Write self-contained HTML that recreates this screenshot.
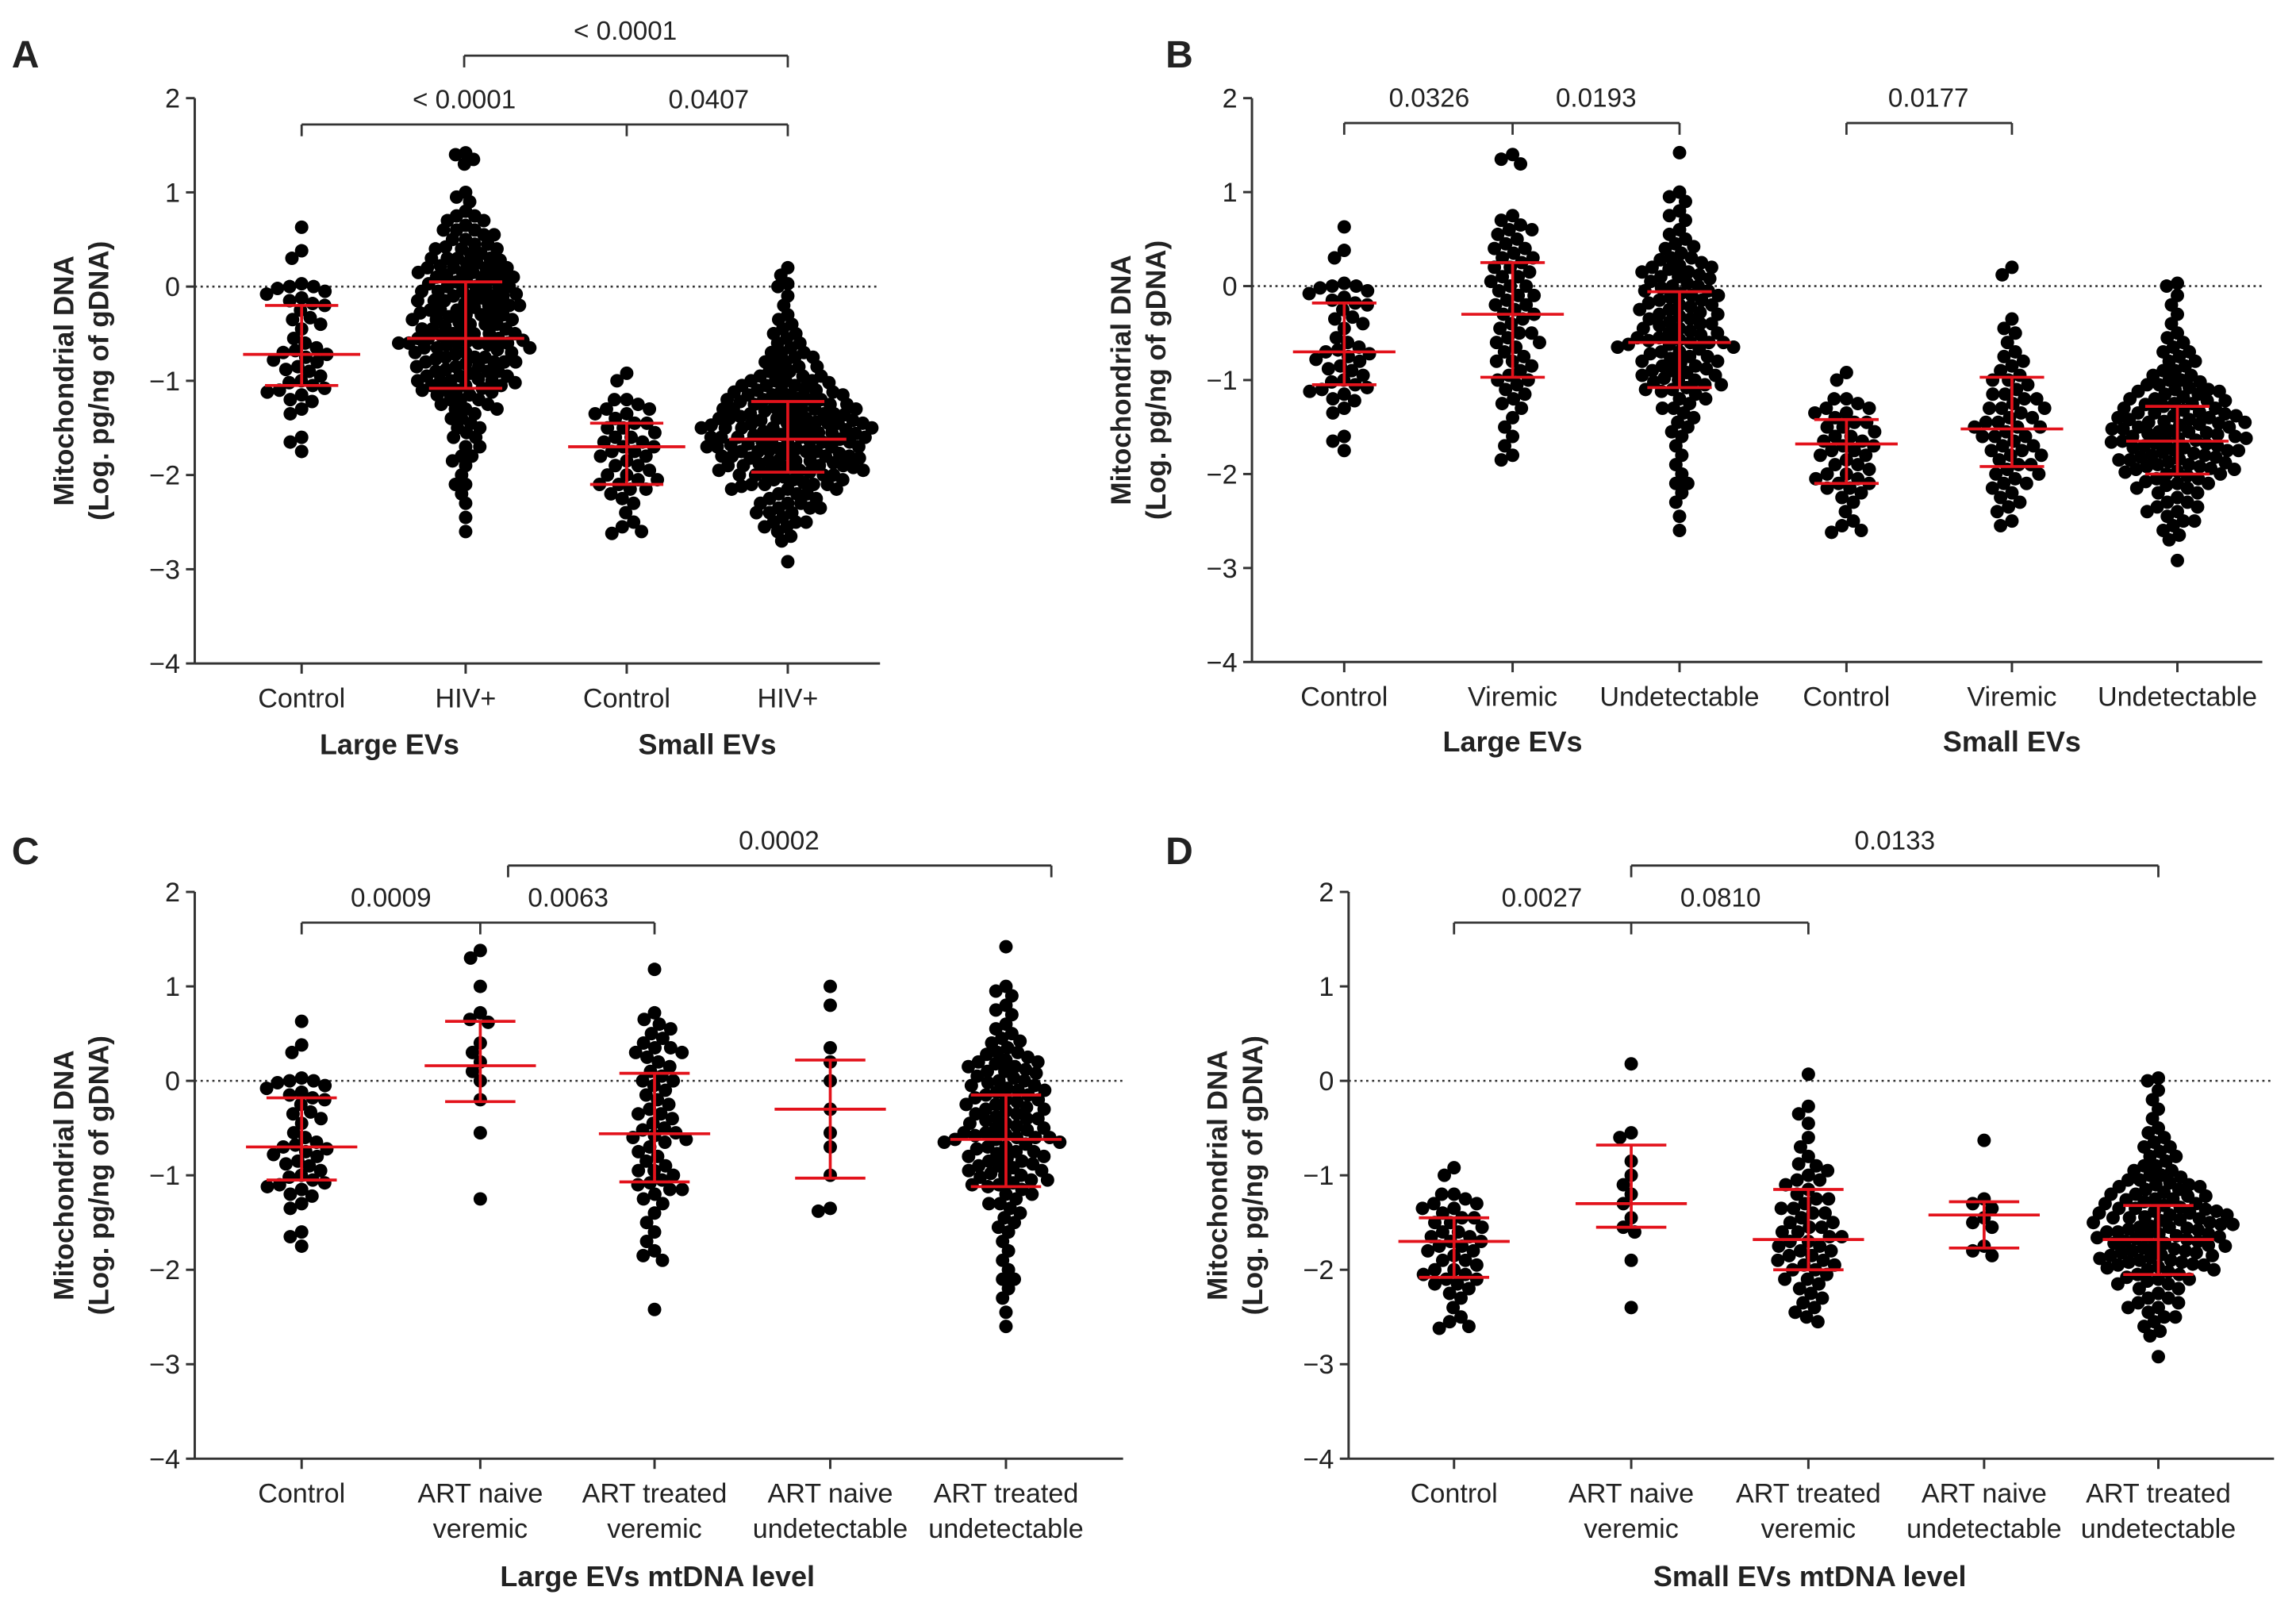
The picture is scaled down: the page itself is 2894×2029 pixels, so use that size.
<!DOCTYPE html>
<html><head><meta charset="utf-8"><style>
html,body{margin:0;padding:0;background:#fff}
svg{display:block}
text{font-family:"Liberation Sans",Arial,sans-serif;fill:#222}
</style></head><body>
<svg id="fig" xmlns="http://www.w3.org/2000/svg" width="2894" height="2029" viewBox="0 0 1568 1099.3"></svg>
<script>
// ---------- data ----------
const largeControl=[0.63,0.38,0.3,0.03,0.0,-0.05,-0.02,0.0,-0.08,-0.12,-0.15,-0.2,-0.18,-0.35,-0.4,-0.33,-0.45,-0.6,-0.55,-0.65,-0.7,-0.72,-0.75,-0.68,-0.8,-0.85,-0.9,-0.78,-0.88,-0.95,-1.0,-1.02,-1.05,-1.08,-1.1,-1.12,-1.15,-1.2,-1.22,-1.3,-1.35,-1.6,-1.65,-1.75,-0.25];
const largeViremic=[1.4,1.35,1.3,0.75,0.7,0.65,0.6,0.55,0.5,0.45,0.4,0.35,0.3,0.3,0.25,0.2,0.15,0.1,0.05,0.0,-0.05,-0.1,-0.15,-0.2,-0.25,-0.3,-0.35,-0.4,-0.45,-0.5,-0.55,-0.6,-0.65,-0.7,-0.75,-0.8,-0.85,-0.9,-0.95,-1.0,-1.05,-1.1,-1.15,-1.2,-1.25,-1.3,-1.4,-1.5,-1.6,-1.7,-1.8,-1.85,0.4,0.2,-0.1,-0.3,-0.5,-0.2,0.1,-0.8,-1.0,-0.6,0.0,0.6];
const largeUndet=[1.42,1.0,0.95,0.9,0.8,0.75,0.7,0.6,0.55,0.5,0.45,0.42,0.4,0.35,0.3,0.28,0.25,0.22,0.2,0.18,0.15,0.12,0.1,0.08,0.05,0.03,0.0,-0.02,-0.05,-0.08,-0.1,-0.12,-0.15,-0.18,-0.2,-0.22,-0.25,-0.28,-0.3,-0.32,-0.35,-0.38,-0.4,-0.42,-0.45,-0.48,-0.5,-0.52,-0.55,-0.57,-0.6,-0.6,-0.62,-0.65,-0.67,-0.7,-0.72,-0.75,-0.77,-0.8,-0.82,-0.85,-0.88,-0.9,-0.92,-0.95,-0.98,-1.0,-1.02,-1.05,-1.08,-1.1,-1.12,-1.15,-1.2,-1.25,-1.3,-1.35,-1.4,-1.45,-1.5,-1.55,-1.6,-1.7,-1.8,-1.9,-2.0,-2.1,-2.1,-2.2,-2.3,-2.45,-2.6,-0.3,-0.4,-0.5,-0.6,-0.7,-0.8,-0.9,-1.0,-0.2,-0.1,0.0,0.1,0.2,0.3,-0.45,-0.55,-0.65,-0.75,-0.85,-0.35,-0.25,-0.15,-1.1,-1.2,-1.3,-0.05,0.15,-0.95,-1.05,-0.58,-0.62];
const smallControl=[-0.92,-1.0,-1.2,-1.2,-1.25,-1.3,-1.3,-1.35,-1.4,-1.45,-1.5,-1.5,-1.55,-1.6,-1.6,-1.65,-1.7,-1.7,-1.75,-1.8,-1.8,-1.85,-1.9,-1.9,-1.95,-2.0,-2.0,-2.05,-2.1,-2.1,-2.15,-2.15,-2.2,-2.25,-2.3,-2.4,-2.5,-2.55,-2.6,-2.62,-1.45,-1.65,-1.75,-2.05,-1.35];
const smallViremic=[0.2,0.12,-0.35,-0.45,-0.5,-0.6,-0.7,-0.75,-0.8,-0.9,-0.95,-1.0,-1.05,-1.1,-1.15,-1.2,-1.25,-1.3,-1.3,-1.35,-1.4,-1.45,-1.5,-1.5,-1.55,-1.6,-1.6,-1.65,-1.7,-1.75,-1.8,-1.85,-1.9,-1.95,-2.0,-2.05,-2.1,-2.15,-2.2,-2.25,-2.3,-2.4,-2.5,-2.55,-1.2,-1.4,-1.7,-1.9,-2.1,-1.0,-1.5,-1.8,-2.0,-1.3,-1.6,-0.85,-1.15,-2.35,-1.45,-1.75];
const smallUndet=[0.03,0.0,-0.1,-0.2,-0.3,-0.4,-0.5,-0.55,-0.6,-0.65,-0.7,-0.75,-0.8,-0.85,-0.9,-0.95,-1.0,-1.02,-1.05,-1.08,-1.1,-1.12,-1.15,-1.18,-1.2,-1.22,-1.25,-1.28,-1.3,-1.32,-1.35,-1.38,-1.4,-1.42,-1.45,-1.47,-1.5,-1.52,-1.55,-1.57,-1.6,-1.62,-1.65,-1.67,-1.7,-1.72,-1.75,-1.77,-1.8,-1.82,-1.85,-1.87,-1.9,-1.92,-1.95,-1.97,-2.0,-2.02,-2.05,-2.08,-2.1,-2.12,-2.15,-2.2,-2.25,-2.3,-2.35,-2.4,-2.45,-2.5,-2.55,-2.6,-2.65,-2.7,-2.92,-1.3,-1.4,-1.5,-1.6,-1.7,-1.8,-1.9,-2.0,-1.35,-1.45,-1.55,-1.65,-1.75,-1.85,-1.95,-1.25,-1.2,-1.1,-1.0,-2.1,-2.2,-2.3,-1.58,-1.62,-1.68,-1.72,-1.48,-1.52,-1.42,-1.38,-1.82,-1.88,-0.9,-0.8,-0.7,-2.4,-1.15,-2.05,-1.98,-1.78,-1.66,-1.56,-1.46,-1.36,-1.26,-1.64,-1.74,-1.54,-1.44,-1.84,-1.94,-1.34,-2.15,-1.05,-0.95,-2.5,-2.35,-1.12,-1.22,-1.92];
const largeNaiveVir=[1.38,1.3,1.0,0.72,0.65,0.62,0.4,0.3,0.2,0.1,0.0,-0.2,-0.55,-1.25];
const largeTreatVir=[1.18,0.72,0.65,0.6,0.55,0.5,0.45,0.4,0.35,0.35,0.3,0.25,0.2,0.15,0.1,0.05,0.0,-0.05,-0.1,-0.15,-0.2,-0.25,-0.3,-0.35,-0.4,-0.45,-0.5,-0.55,-0.58,-0.6,-0.65,-0.7,-0.75,-0.8,-0.85,-0.9,-0.95,-1.0,-1.05,-1.08,-1.1,-1.15,-1.2,-1.25,-1.3,-1.4,-1.5,-1.6,-1.7,-1.8,-1.85,-1.9,-2.42,-0.52,-0.62,0.3,-0.95,-1.15,0.0,-0.35];
const largeNaiveUnd=[1.0,0.8,0.35,0.2,0.0,-0.3,-0.55,-0.7,-1.0,-1.35,-1.38];
const smallNaiveVir=[0.18,-0.55,-0.6,-0.85,-1.0,-1.1,-1.2,-1.3,-1.45,-1.55,-1.6,-1.9,-2.4];
const smallTreatVir=[0.07,-0.27,-0.35,-0.45,-0.6,-0.7,-0.8,-0.9,-0.95,-1.0,-1.05,-1.1,-1.15,-1.2,-1.25,-1.3,-1.35,-1.4,-1.45,-1.5,-1.55,-1.6,-1.65,-1.7,-1.7,-1.75,-1.8,-1.85,-1.9,-1.95,-2.0,-2.05,-2.1,-2.15,-2.2,-2.25,-2.3,-2.4,-2.5,-2.55,-1.5,-1.6,-1.8,-1.9,-2.0,-1.25,-1.4,-1.65,-1.75,-2.1,-2.35,-1.05,-1.55,-1.85,-2.45,-0.88,-1.95,-1.35];
const smallNaiveUnd=[-0.63,-1.25,-1.3,-1.35,-1.45,-1.5,-1.55,-1.75,-1.8,-1.85];
// summary bars: median, q1, q3
const statsA=[[-0.72,-1.05,-0.2],[-0.55,-1.08,0.05],[-1.7,-2.1,-1.45],[-1.62,-1.97,-1.22]];
const statsB=[[-0.7,-1.05,-0.18],[-0.3,-0.97,0.25],[-0.6,-1.08,-0.06],[-1.68,-2.1,-1.42],[-1.52,-1.92,-0.97],[-1.65,-2.0,-1.28]];
const statsC=[[-0.7,-1.05,-0.18],[0.16,-0.22,0.63],[-0.56,-1.07,0.08],[-0.3,-1.03,0.22],[-0.62,-1.12,-0.15]];
const statsD=[[-1.7,-2.08,-1.45],[-1.3,-1.55,-0.68],[-1.68,-2.0,-1.15],[-1.42,-1.77,-1.28],[-1.68,-2.05,-1.32]];
const yTicks=[2,1,0,-1,-2,-3,-4];
const labelsA=[["Control"],["HIV+"],["Control"],["HIV+"]];
const labelsB=[["Control"],["Viremic"],["Undetectable"],["Control"],["Viremic"],["Undetectable"]];
const labelsCD=[["Control"],["ART naive","veremic"],["ART treated","veremic"],["ART naive","undetectable"],["ART treated","undetectable"]];

// ---------- drawing ----------
const NS="http://www.w3.org/2000/svg";
const svg=document.getElementById('fig');
function el(tag,attrs,parent,txt){const e=document.createElementNS(NS,tag);for(const k in attrs)e.setAttribute(k,attrs[k]);if(txt!==undefined)e.textContent=txt;(parent||svg).appendChild(e);return e;}

function beeswarm(vals,yf,D){
  const pts=vals.map(v=>({v,y:yf(v)})).sort((a,b)=>a.y-b.y);const placed=[];
  for(const p of pts){
    const iv=[];
    for(const q of placed){const dy=Math.abs(q.y-p.y);if(dy<D){const w=Math.sqrt(D*D-dy*dy);iv.push([q.x-w,q.x+w]);}}
    const cands=[0];iv.forEach(i=>{cands.push(i[0],i[1]);});
    cands.sort((a,b)=>Math.abs(a)-Math.abs(b));
    let x=0;for(const c of cands){if(iv.every(i=>c<=i[0]+1e-6||c>=i[1]-1e-6)){x=c;break;}}
    p.x=x;placed.push(p);
  }
  return placed;
}

function panel(cfg){
  const g=el('g',{},svg);
  
  
  const y=v=>cfg.y0+(2-v)*(cfg.y1-cfg.y0)/6;
  const letter=el('text',{x:cfg.lx,y:cfg.ly,'font-size':26,'font-weight':'bold'},g,cfg.letter);
  
  const ya=el('line',{x1:cfg.ax,y1:cfg.y0,x2:cfg.ax,y2:cfg.y1,stroke:'#333','stroke-width':1.6},g);
  
  const xa=el('line',{x1:cfg.ax,y1:cfg.y1,x2:cfg.xend,y2:cfg.y1,stroke:'#333','stroke-width':1.6},g);
  
  yTicks.forEach(t=>{
    el('line',{x1:cfg.ax-6,y1:y(t),x2:cfg.ax,y2:y(t),stroke:'#333','stroke-width':1.6},g);
    const tl=el('text',{x:cfg.ax-10,y:y(t)+6.5,'font-size':18.5,'text-anchor':'end'},g,t<0?'\u2212'+(-t):String(t));
    
  });
  const zl=el('line',{x1:cfg.ax,y1:y(0),x2:cfg.xend,y2:y(0),stroke:'#333','stroke-width':1.4,'stroke-dasharray':'1.5,2.5'},g);
  
  const yt=el('text',{transform:`translate(${cfg.ytx},${(cfg.y0+cfg.y1)/2}) rotate(-90)`,'font-size':19,'font-weight':'bold','text-anchor':'middle'},g);
  
  el('tspan',{x:0,dy:0},yt,'Mitochondrial DNA');
  el('tspan',{x:0,dy:24},yt,'(Log. pg/ng of gDNA)');
  cfg.groups.forEach((vals,i)=>{
    const cx=cfg.cx[i];
    el('line',{x1:cx,y1:cfg.y1,x2:cx,y2:cfg.y1+7,stroke:'#333','stroke-width':1.6},g);
    cfg.labels[i].forEach((l,k)=>{
      const t=el('text',{x:cx,y:cfg.y1+30+k*24,'font-size':18.5,'text-anchor':'middle'},g,l);
      
    });
    const gg=el('g',{},g);
    
    const D=vals.length>150?7.0:(vals.length>100?7.6:8.4);
    beeswarm(vals,y,D).forEach(p=>{
      const c=el('circle',{cx:cx+p.x,cy:p.y,r:4.6,fill:'#000'},gg);
      
    });
    const s=cfg.stats[i];const mw=cfg.mw,cw=cfg.cw;
    const sg=el('g',{stroke:'#e3121b','stroke-width':2},g);
    
    el('line',{x1:cx,y1:y(s[1]),x2:cx,y2:y(s[2])},sg);
    el('line',{x1:cx-mw,y1:y(s[0]),x2:cx+mw,y2:y(s[0])},sg);
    el('line',{x1:cx-cw,y1:y(s[1]),x2:cx+cw,y2:y(s[1])},sg);
    el('line',{x1:cx-cw,y1:y(s[2]),x2:cx+cw,y2:y(s[2])},sg);
  });
  cfg.titles.forEach(t=>{
    const e=el('text',{x:t[1],y:t[2],'font-size':19.5,'font-weight':'bold','text-anchor':'middle'},g,t[0]);
    
  });
  cfg.brackets.forEach(b=>{
    const bg=el('g',{stroke:'#333','stroke-width':1.5},g);
    
    el('line',{x1:b.x[0],y1:b.y,x2:b.x[b.x.length-1],y2:b.y},bg);
    b.x.forEach(xx=>el('line',{x1:xx,y1:b.y,x2:xx,y2:b.y+8},bg));
    b.l.forEach(l=>{
      const t=el('text',{x:l[1],y:b.y-11,'font-size':18,'text-anchor':'middle'},g,l[0]);
      
    });
  });
}

panel({letter:'A',lx:8,ly:46,ax:133,xend:601,y0:67,y1:453,ytx:50,mw:40,cw:25,
  cx:[206,318,428,538],labels:labelsA,
  groups:[largeControl,largeViremic.concat(largeUndet),smallControl,smallViremic.concat(smallUndet)],
  stats:statsA,titles:[['Large EVs',266,515],['Small EVs',483,515]],
  brackets:[{y:85,x:[206,428,538],l:[['< 0.0001',317],['0.0407',484]]},{y:38,x:[317,538],l:[['< 0.0001',427]]}]});
panel({letter:'B',lx:796,ly:46,ax:855,xend:1545,y0:67,y1:452,ytx:772,mw:35,cw:22,
  cx:[918,1033,1147,1261,1374,1487],labels:labelsB,
  groups:[largeControl,largeViremic,largeUndet,smallControl,smallViremic,smallUndet],
  stats:statsB,titles:[['Large EVs',1033,513],['Small EVs',1374,513]],
  brackets:[{y:84,x:[918,1033,1147],l:[['0.0326',976],['0.0193',1090]]},{y:84,x:[1261,1374],l:[['0.0177',1317]]}]});
panel({letter:'C',lx:8,ly:590,ax:133,xend:767,y0:609,y1:996,ytx:50,mw:38,cw:24,
  cx:[206,328,447,567,687],labels:labelsCD,
  groups:[largeControl,largeNaiveVir,largeTreatVir,largeNaiveUnd,largeUndet],
  stats:statsC,titles:[['Large EVs mtDNA level',449,1083]],
  brackets:[{y:630,x:[206,328,447],l:[['0.0009',267],['0.0063',388]]},{y:591,x:[347,718],l:[['0.0002',532]]}]});
panel({letter:'D',lx:796,ly:590,ax:921,xend:1553,y0:609,y1:996,ytx:838,mw:38,cw:24,
  cx:[993,1114,1235,1355,1474],labels:labelsCD,
  groups:[smallControl,smallNaiveVir,smallTreatVir,smallNaiveUnd,smallUndet],
  stats:statsD,titles:[['Small EVs mtDNA level',1236,1083]],
  brackets:[{y:630,x:[993,1114,1235],l:[['0.0027',1053],['0.0810',1175]]},{y:591,x:[1114,1474],l:[['0.0133',1294]]}]});
</script>
</body></html>
